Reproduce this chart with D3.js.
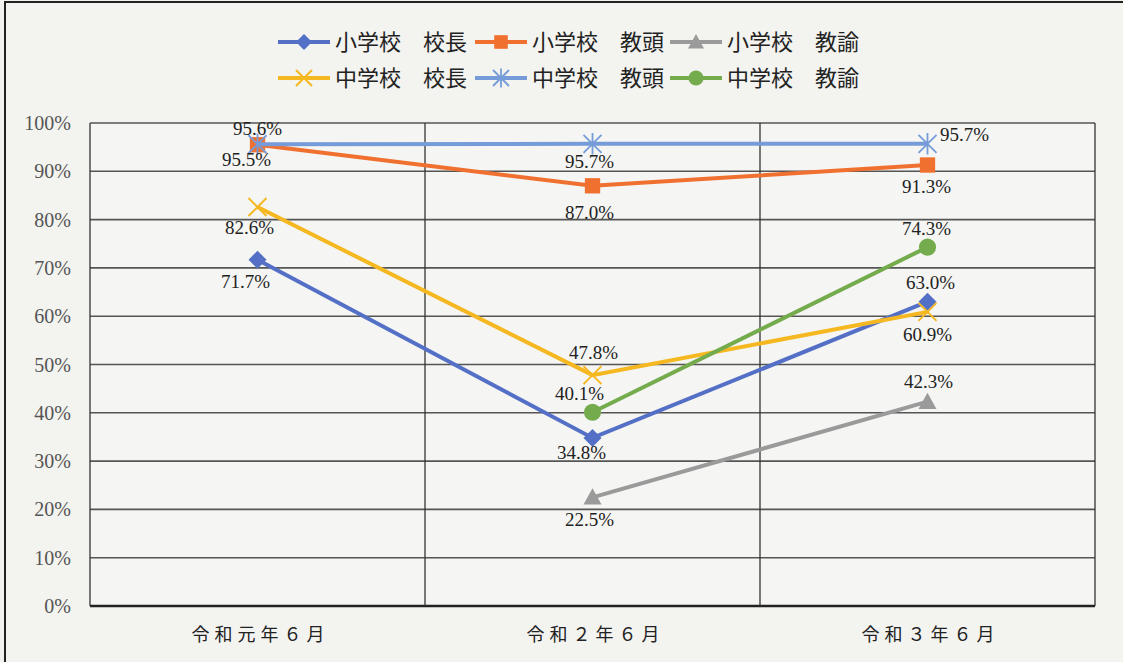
<!DOCTYPE html>
<html>
<head>
<meta charset="utf-8">
<script src="https://cdn.jsdelivr.net/npm/d3@7"></script>
<style>
  html, body { margin: 0; padding: 0; background: #f2f2ef; }
  svg { display: block; }
  .tick-y { font-family: "Liberation Serif", "DejaVu Serif", serif; font-size: 20px; fill: #555; }
  .tick-x { font-family: "Noto Sans CJK JP", sans-serif; font-size: 18px; fill: #222; letter-spacing: 5px; }
  .legend { font-family: "Noto Sans CJK JP", sans-serif; font-size: 22px; fill: #222; }
  .dlabel { font-family: "Liberation Serif", "DejaVu Serif", serif; font-size: 19px; fill: #222; }
</style>
</head>
<body>
<div id="chart"></div>
<script>
(function() {

const w = 1123;
const h = 662;

const categories = ["令和元年６月", "令和２年６月", "令和３年６月"];
const seriesNames = ["小学校　校長", "小学校　教頭", "小学校　教諭", "中学校　校長", "中学校　教頭", "中学校　教諭"];
const elemPrincipal = [71.7, 34.8, 63.0];
const elemVice = [95.5, 87.0, 91.3];
const elemTeacher = [null, 22.5, 42.3];
const juniorPrincipal = [82.6, 47.8, 60.9];
const juniorVice = [95.6, 95.7, 95.7];
const juniorTeacher = [null, 40.1, 74.3];
const yTicks = [0, 10, 20, 30, 40, 50, 60, 70, 80, 90, 100];

const seriesValues = [elemPrincipal, elemVice, elemTeacher, juniorPrincipal, juniorVice, juniorTeacher];
const colours = ["#5470c6", "#f07030", "#9a9a9a", "#f5b820", "#759cd8", "#74ab4c"];
const markers = ["diamond", "square", "triangle", "x", "star", "circle"];
// where each data label sits relative to its point: [dx, dy]
const labelPlace = [
    [[-12, 28], [-11, 21], [3, -13]],
    [[-11, 21], [-3, 33], [-1, 28]],
    [null, [-3, 29], [1, -14]],
    [[-8, 27], [1, -16], [0, 29]],
    [[0, -9], [-3, 24], [37, -3]],
    [null, [-13, -12], [-1, -12]]
];

const margin = {left: 90, right: 28, top: 123, bottom: 56};

const svg = d3.select("#chart")
    .append("svg")
    .attr("width", w)
    .attr("height", h);

// outer frame
svg.append("rect")
    .attr("x", 5).attr("y", 2)
    .attr("width", w + 10).attr("height", h + 10)
    .attr("fill", "#f3f3f0")
    .attr("stroke", "#222")
    .attr("stroke-width", 2);

const x = d3.scaleBand()
    .domain(categories)
    .range([margin.left, w - margin.right]);

const y = d3.scaleLinear()
    .domain([0, 100])
    .range([h - margin.bottom, margin.top]);

const plot = svg.append("g");

plot.append("rect")
    .attr("x", margin.left).attr("y", margin.top)
    .attr("width", w - margin.left - margin.right)
    .attr("height", h - margin.top - margin.bottom)
    .attr("fill", "#f5f5f3");

// horizontal gridlines
plot.selectAll("line.hgrid")
    .data(yTicks)
    .enter()
    .append("line")
    .attr("class", "hgrid")
    .attr("x1", margin.left).attr("x2", w - margin.right)
    .attr("y1", d => y(d)).attr("y2", d => y(d))
    .attr("stroke", d => d === 0 ? "#222" : "#555")
    .attr("stroke-width", d => d === 0 ? 2.5 : 1.6);

// vertical gridlines at category boundaries
const bounds = categories.map(c => x(c)).concat([x.range()[1]]);
plot.selectAll("line.vgrid")
    .data(bounds)
    .enter()
    .append("line")
    .attr("class", "vgrid")
    .attr("x1", d => d).attr("x2", d => d)
    .attr("y1", margin.top).attr("y2", h - margin.bottom)
    .attr("stroke", "#333")
    .attr("stroke-width", 1.3);

// y tick labels
svg.selectAll("text.tick-y")
    .data(yTicks)
    .enter()
    .append("text")
    .attr("class", "tick-y")
    .attr("x", margin.left - 19)
    .attr("y", d => y(d) + 7)
    .attr("text-anchor", "end")
    .text(d => d + "%");

// x tick labels
svg.selectAll("text.tick-x")
    .data(categories)
    .enter()
    .append("text")
    .attr("class", "tick-x")
    .attr("x", d => x(d) + x.bandwidth() / 2 + 3)
    .attr("y", h - margin.bottom + 35)
    .attr("text-anchor", "middle")
    .text(d => d);

function drawMarker(g, type, colour, size) {
    const s = size;
    if (type === "diamond") {
        g.append("path").attr("d", `M0,${-s}L${s},0L0,${s}L${-s},0Z`).attr("fill", colour);
    } else if (type === "square") {
        g.append("rect").attr("x", -s * 0.85).attr("y", -s * 0.85)
            .attr("width", s * 1.7).attr("height", s * 1.7).attr("fill", colour);
    } else if (type === "triangle") {
        g.append("path").attr("d", `M0,${-s}L${s},${s * 0.8}L${-s},${s * 0.8}Z`).attr("fill", colour);
    } else if (type === "circle") {
        g.append("circle").attr("r", s * 0.95).attr("fill", colour);
    } else if (type === "x") {
        g.append("path").attr("d", `M${-s},${-s}L${s},${s}M${s},${-s}L${-s},${s}`)
            .attr("stroke", colour).attr("stroke-width", 2);
    } else if (type === "star") {
        g.append("path").attr("d", `M${-s},${-s}L${s},${s}M${s},${-s}L${-s},${s}M0,${-s * 1.2}L0,${s * 1.2}`)
            .attr("stroke", colour).attr("stroke-width", 1.8);
    }
}

const line = d3.line()
    .defined(d => d.v !== null)
    .x(d => x(d.c) + x.bandwidth() / 2)
    .y(d => y(d.v));

seriesValues.forEach(function(vals, i) {
    const pts = vals.map((v, j) => ({c: categories[j], v: v, j: j}));
    const g = plot.append("g");
    g.append("path")
        .datum(pts)
        .attr("fill", "none")
        .attr("stroke", colours[i])
        .attr("stroke-width", 4)
        .attr("d", line);

    pts.filter(p => p.v !== null).forEach(function(p) {
        const m = g.append("g")
            .attr("transform", `translate(${x(p.c) + x.bandwidth() / 2},${y(p.v)})`);
        drawMarker(m, markers[i], colours[i], 9);
    });
});

// data labels on top
seriesValues.forEach(function(vals, i) {
    vals.forEach(function(v, j) {
        if (v === null) return;
        const off = labelPlace[i][j];
        svg.append("text")
            .attr("class", "dlabel")
            .attr("x", x(categories[j]) + x.bandwidth() / 2 + off[0])
            .attr("y", y(v) + off[1])
            .attr("text-anchor", "middle")
            .text(v.toFixed(1) + "%");
    });
});

// legend
const legendX = [278, 475, 670];
const legendY = [42, 78];
seriesNames.forEach(function(name, i) {
    const lx = legendX[i % 3];
    const ly = legendY[Math.floor(i / 3)];
    const g = svg.append("g").attr("transform", `translate(${lx},${ly})`);
    g.append("line")
        .attr("x1", 0).attr("x2", 52)
        .attr("y1", 0).attr("y2", 0)
        .attr("stroke", colours[i])
        .attr("stroke-width", 4);
    const m = g.append("g").attr("transform", "translate(26,0)");
    drawMarker(m, markers[i], colours[i], 8);
    g.append("text")
        .attr("class", "legend")
        .attr("x", 57)
        .attr("y", 8)
        .text(name);
});

})();
</script>
</body>
</html>
